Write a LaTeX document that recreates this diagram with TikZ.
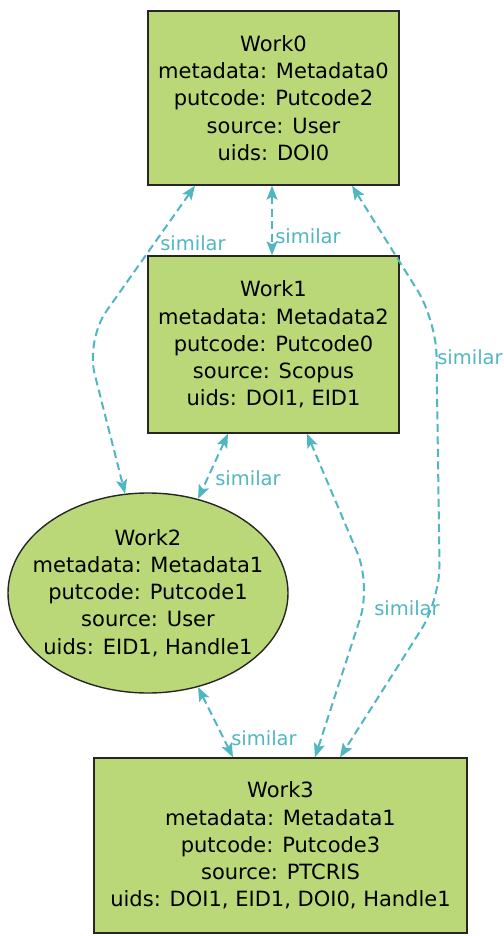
\documentclass[tikz,border=0pt]{standalone}
\usepackage{fontspec}
\setmainfont{DejaVu Sans}
\usetikzlibrary{shapes.geometric,arrows.meta}
\definecolor{nodefill}{RGB}{186,216,119}
\definecolor{edgecol}{RGB}{80,182,194}
\tikzset{
  work/.style={draw=black!85, line width=1.4pt, fill=nodefill, align=center,
    font=\fontsize{21}{27.2}\selectfont, inner sep=0pt},
  workbox/.style={work, rectangle},
  workegg/.style={work, ellipse, inner xsep=-20pt, inner ysep=-8pt,
    minimum width=280pt, minimum height=200pt},
  sim/.style={draw=edgecol, line width=2pt, dash pattern=on 8pt off 4.5pt, rounded corners=35pt,
    {Stealth[length=14pt,width=11pt,inset=3pt]}-{Stealth[length=14pt,width=11pt,inset=3pt]}},
  simlabel/.style={text=edgecol, font=\fontsize{19.5}{22}\selectfont, inner sep=0pt}
}
\begin{document}
\begin{tikzpicture}[x=1pt,y=-1pt]
\useasboundingbox (0,0) rectangle (503,936);
\node[workbox, minimum width=251pt, minimum height=174pt] (w0) at (273.5,98)
  {Work0\\metadata: Metadata0\\putcode: Putcode2\\source: User\\uids: DOI0};
\node[workbox, minimum width=251pt, minimum height=177pt] (w1) at (273.5,344.5)
  {Work1\\metadata: Metadata2\\putcode: Putcode0\\source: Scopus\\uids: DOI1, EID1};
\node[workegg] (w2) at (148,593)
  {Work2\\metadata: Metadata1\\putcode: Putcode1\\source: User\\uids: EID1, Handle1};
\node[workbox, minimum width=373pt, minimum height=175pt] (w3) at (280.5,845.5)
  {Work3\\metadata: Metadata1\\putcode: Putcode3\\source: PTCRIS\\uids: DOI1, EID1, DOI0, Handle1};
% edges
\coordinate (b1) at (86,340);
\coordinate (b3a) at (436,320);
\coordinate (b3b) at (440,600);
\coordinate (b5) at (371,585);
\draw[sim] ([xshift=-78.5pt]w0.south) -- (b1) -- (w2.103);
\node[simlabel] (l1) at (193,243) {similar};
\draw[sim] ([xshift=-1.5pt]w0.south) -- ([xshift=-1.5pt]w1.north);
\node[simlabel] (l2) at (308,236) {similar};
\draw[sim] ([xshift=78.5pt]w0.south) -- (b3a) -- (b3b) -- ([xshift=59.5pt]w3.north);
\node[simlabel] (l3) at (470,357) {similar};
\draw[sim] ([xshift=-45.5pt]w1.south) -- (w2.62);
\node[simlabel] (l4) at (248,478) {similar};
\draw[sim] ([xshift=33.5pt]w1.south) -- (b5) -- ([xshift=34.5pt]w3.north);
\node[simlabel] (l5) at (407,608) {similar};
\draw[sim] (w2.-62) -- ([xshift=-47.5pt]w3.north);
\node[simlabel] (l6) at (264,738) {similar};
\end{tikzpicture}
\end{document}
